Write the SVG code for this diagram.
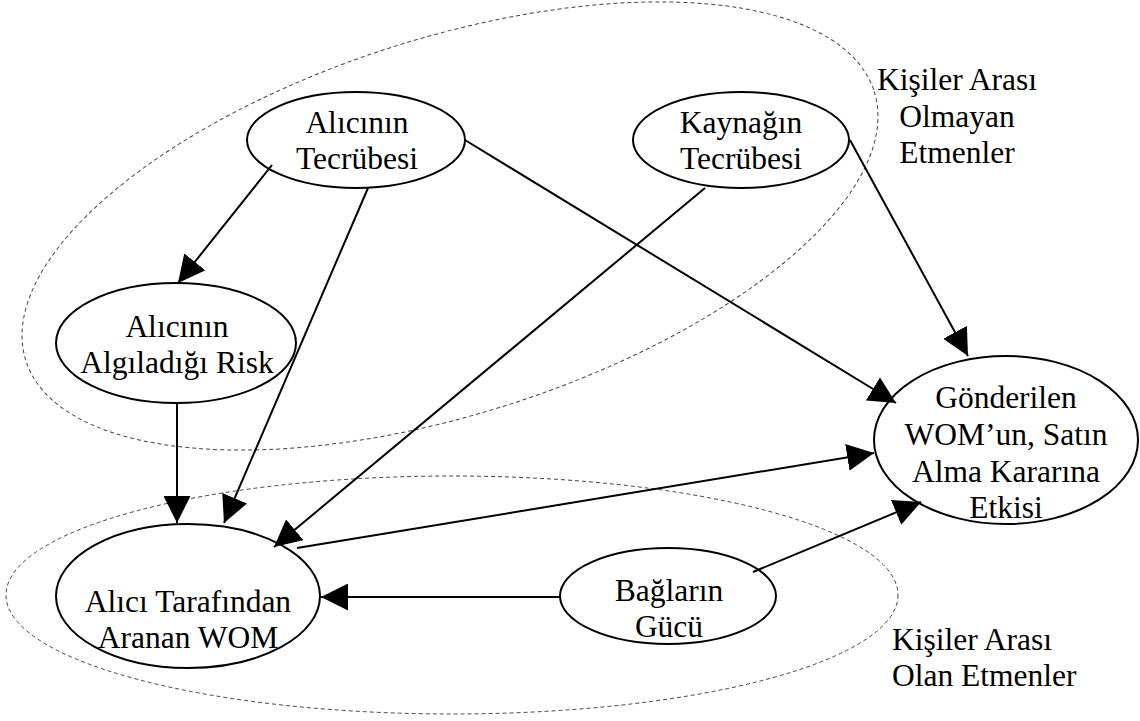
<svg xmlns="http://www.w3.org/2000/svg" width="1140" height="721" viewBox="0 0 1140 721">
<style>
.node{fill:#fff;stroke:#000;stroke-width:2}
.grp{fill:none;stroke:#444;stroke-width:1;stroke-dasharray:4 3}
.t{font-family:"Liberation Serif","Times New Roman",serif;font-size:31.5px;fill:#000;text-anchor:middle}
.lbl{font-family:"Liberation Serif","Times New Roman",serif;font-size:31.5px;fill:#000}
.edge{stroke:#000;stroke-width:2;fill:none;marker-end:url(#ah)}
</style>
<defs>
<marker id="ah" markerUnits="userSpaceOnUse" markerWidth="28" markerHeight="27" refX="27" refY="13.5" orient="auto" viewBox="0 0 28 27">
<path d="M0,0 L27,13.5 L0,27 z" fill="#000"/>
</marker>
</defs>
<rect width="1140" height="721" fill="#fff"/>
<g id="groups">
<ellipse class="grp" cx="450" cy="226" rx="445" ry="188" transform="rotate(-17.6 450 226)"/>
<ellipse class="grp" cx="452" cy="595" rx="446" ry="119"/>
</g>
<g id="n1"><ellipse class="node" cx="356" cy="140" rx="109" ry="48"/>
<text class="t" x="357" y="133">Alıcının</text><text class="t" x="357" y="169">Tecrübesi</text></g>
<g id="n2"><ellipse class="node" cx="741" cy="140" rx="108" ry="48"/>
<text class="t" x="741" y="133">Kaynağın</text><text class="t" x="741" y="169">Tecrübesi</text></g>
<g id="n3"><ellipse class="node" cx="176" cy="343" rx="120" ry="60"/>
<text class="t" x="177" y="337">Alıcının</text><text class="t" x="177" y="373">Algıladığı Risk</text></g>
<g id="n4"><ellipse class="node" cx="188" cy="596" rx="132" ry="72"/>
<text class="t" x="188" y="612">Alıcı Tarafından</text><text class="t" x="188" y="648">Aranan WOM</text></g>
<g id="n5"><ellipse class="node" cx="668" cy="596" rx="108" ry="48"/>
<text class="t" x="669" y="601">Bağların</text><text class="t" x="669" y="637">Gücü</text></g>
<g id="n6"><ellipse class="node" cx="1006" cy="440" rx="132" ry="84"/>
<text class="t" x="1006" y="408">Gönderilen</text><text class="t" x="1006" y="445">WOM’un, Satın</text><text class="t" x="1006" y="482">Alma Kararına</text><text class="t" x="1006" y="518">Etkisi</text></g>
<g id="connectors">
<line class="edge" x1="272" y1="165" x2="178" y2="283"/>
<line class="edge" x1="368" y1="188" x2="224" y2="523"/>
<line class="edge" x1="177" y1="403" x2="177" y2="523"/>
<line class="edge" x1="705" y1="188" x2="274" y2="547"/>
<line class="edge" x1="465" y1="140" x2="896" y2="403"/>
<line class="edge" x1="850" y1="140" x2="968" y2="356"/>
<line class="edge" x1="297" y1="548" x2="874" y2="453"/>
<line class="edge" x1="561" y1="597" x2="321" y2="597"/>
<line class="edge" x1="753" y1="572" x2="921" y2="502"/>
</g>
<g id="labels">
<text class="t" x="957" y="90">Kişiler Arası</text>
<text class="t" x="957" y="127">Olmayan</text>
<text class="t" x="957" y="163">Etmenler</text>
<text class="lbl" x="892" y="650">Kişiler Arası</text>
<text class="lbl" x="892" y="686">Olan Etmenler</text>
</g>
</svg>
